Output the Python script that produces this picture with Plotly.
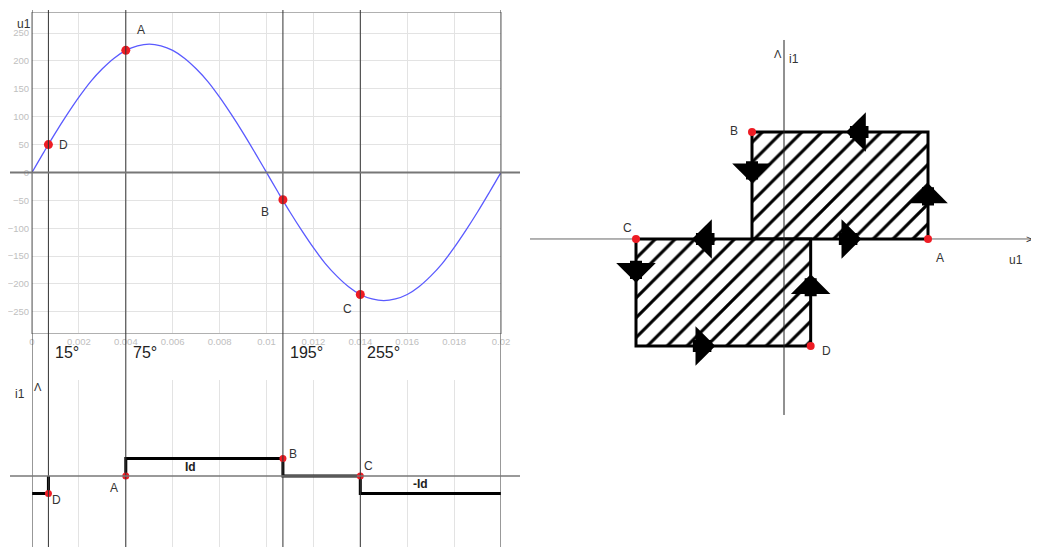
import plotly.graph_objects as go

# sine u1(t), every 0.0005 s
t_sine = [i * 0.0005 for i in range(41)]
u_sine = [0, 36, 71, 104, 135, 163, 186, 205, 219, 227, 230, 227, 219, 205, 186, 163, 135, 104, 71, 36,
          0, -36, -71, -104, -135, -163, -186, -205, -219, -227, -230, -227, -219, -205, -186, -163, -135, -104, -71, -36, 0]

# marked points on the sine
pt_names = ["D", "A", "B", "C"]
pt_t = [0.0007, 0.004, 0.0107, 0.014]
pt_u = [50, 219, -49, -219]
pt_angles = ["15°", "75°", "195°", "255°"]

# current i1(t) (in units of Id)
i_t = [0, 0.0007, 0.0007, None, 0.004, 0.004, 0.0107, 0.0107, 0.014, 0.014, 0.02]
i_val = [-1, -1, 0, None, 0, 1, 1, 0, 0, -1, -1]
i_pt_val = [-1, 0, 1, 0]

# u1-i1 loop (right diagram)
loop_names = ["A", "B", "C", "D"]
loop_u = [216, -48, -222, 40]
loop_i = [0, 1, 0, -1]

# page body has an 8px margin, so the figure is drawn 8px smaller
OFF = 8
W, H = 1039 - OFF, 547 - OFF
px = lambda v: (v - OFF) / W
py = lambda v: 1 - (v - OFF) / H

fig = go.Figure()

# ---- top-left: u1(t)
fig.add_trace(go.Scatter(x=t_sine, y=u_sine, mode="lines", line=dict(color="#5a5aff", width=1.3, shape="spline"),
                         xaxis="x", yaxis="y", hoverinfo="skip"))
fig.add_trace(go.Scatter(x=pt_t, y=pt_u, mode="markers", marker=dict(color="#ee1c24", size=9),
                         xaxis="x", yaxis="y"))

# ---- bottom-left: i1(t)
fig.add_trace(go.Scatter(x=i_t, y=i_val, mode="lines", line=dict(color="black", width=3),
                         xaxis="x", yaxis="y2", connectgaps=False))
fig.add_trace(go.Scatter(x=pt_t, y=i_pt_val, mode="markers", marker=dict(color="#ee1c24", size=7),
                         xaxis="x", yaxis="y2"))

# ---- right: loop with hatching
up = (loop_u[1], loop_u[0])
lo = (loop_u[2], loop_u[3])
pat = dict(shape="/", fgcolor="black", bgcolor="white", size=14, solidity=0.22, fgopacity=1)
fig.add_trace(go.Scatter(x=[up[0], up[1], up[1], up[0], up[0]], y=[0, 0, loop_i[1], loop_i[1], 0],
                         fill="toself", fillpattern=pat, fillcolor="white", mode="lines",
                         line=dict(color="black", width=3), xaxis="x3", yaxis="y3"))
fig.add_trace(go.Scatter(x=[lo[0], lo[1], lo[1], lo[0], lo[0]], y=[0, 0, loop_i[3], loop_i[3], 0],
                         fill="toself", fillpattern=pat, fillcolor="white", mode="lines",
                         line=dict(color="black", width=3), xaxis="x3", yaxis="y3"))
fig.add_trace(go.Scatter(x=loop_u, y=loop_i, mode="markers", marker=dict(color="#ee1c24", size=8),
                         xaxis="x3", yaxis="y3"))

shapes = []
# vertical reference lines through both left panels
for tv in [0] + pt_t + [0.02]:
    shapes.append(dict(type="line", xref="x", yref="paper", x0=tv, x1=tv, y0=0, y1=py(10),
                       line=dict(color="#333", width=1)))
# zero lines extended to the left
shapes.append(dict(type="line", xref="paper", yref="y", x0=px(10), x1=px(520), y0=0, y1=0,
                   line=dict(color="#777", width=2)))
shapes.append(dict(type="line", xref="paper", yref="y2", x0=px(10), x1=px(520), y0=0, y1=0,
                   line=dict(color="#777", width=1.5)))
# right axes
shapes.append(dict(type="line", xref="x3", yref="y3", x0=-381, x1=380, y0=0, y1=0,
                   line=dict(color="#666", width=1), layer="below"))
shapes.append(dict(type="line", xref="x3", yref="y3", x0=0, x1=0, y0=-1.645, y1=1.86,
                   line=dict(color="#222", width=1)))

ann = []
ann.append(dict(text="u1", xref="paper", yref="paper", x=px(15), y=py(15), showarrow=False,
                font=dict(size=12, color="#333")))
for n, tv, uv, dx, dy in zip(pt_names, pt_t, pt_u, [15, 15, -18, -13], [0, 20, -12, -14]):
    ann.append(dict(text=n, x=tv, y=uv, xref="x", yref="y", xshift=dx, yshift=dy, showarrow=False,
                    font=dict(size=12, color="#333")))
for a, tv in zip(pt_angles, pt_t):
    ann.append(dict(text=a, x=tv, y=py(352), xref="x", yref="paper", xanchor="left", xshift=5,
                    showarrow=False, font=dict(size=16, color="#222")))
for n, tv, iv, dx, dy in zip(pt_names, pt_t, i_pt_val, [8, -12, 10, 8], [-7, -12, 5, 10]):
    ann.append(dict(text=n, x=tv, y=iv, xref="x", yref="y2", xshift=dx, yshift=dy, showarrow=False,
                    font=dict(size=12, color="#333")))
ann.append(dict(text="<b>Id</b>", x=0.00674, y=0.51, xref="x", yref="y2", showarrow=False,
                font=dict(size=12, color="#222")))
ann.append(dict(text="<b>-Id</b>", x=0.01655, y=-0.46, xref="x", yref="y2", showarrow=False,
                font=dict(size=12, color="#222")))
ann.append(dict(text="i1", xref="paper", yref="paper", x=px(13), y=py(403), showarrow=False,
                font=dict(size=12, color="#333")))
ann.append(dict(text="Λ", xref="paper", yref="paper", x=px(32), y=py(395), showarrow=False,
                font=dict(size=11, color="#333")))
# right labels
for n, uv, iv, dx, dy in zip(loop_names, loop_u, loop_i, [12, -18, -9, 16], [-19, 1, 11, -5]):
    ann.append(dict(text=n, x=uv, y=iv, xref="x3", yref="y3", xshift=dx, yshift=dy, showarrow=False,
                    font=dict(size=12, color="#333")))
ann.append(dict(text="i1", xref="paper", yref="paper", x=px(801), y=py(50), showarrow=False,
                font=dict(size=12, color="#333")))
ann.append(dict(text="u1", xref="paper", yref="paper", x=px(1025), y=py(260), showarrow=False,
                font=dict(size=12, color="#333")))
ann.append(dict(text="Λ", xref="paper", yref="paper", x=px(784), y=py(46), showarrow=False,
                font=dict(size=11, color="#333")))
ann.append(dict(text=">", xref="paper", yref="paper", x=px(1034), y=py(239), showarrow=False,
                font=dict(size=11, color="#333")))

# direction arrows on the loop: (tip_u, tip_i, tail_u, tail_i)
arrows = [(93, 1, 129, 1), (-48, 0.52, -48, 0.74), (216, 0.52, 216, 0.30), (-138, 0, -102, 0),
          (116, 0, 80, 0), (-222, -0.41, -222, -0.19), (-103, -1, -139, -1), (40, -0.33, 40, -0.55)]
for x1, y1, x0, y0 in arrows:
    ann.append(dict(x=x1, y=y1, ax=x0, ay=y0, xref="x3", yref="y3", axref="x3", ayref="y3", text="",
                    showarrow=True, arrowhead=1, arrowsize=0.55, arrowwidth=12, arrowcolor="black"))

tickfont = dict(size=9.5, color="#c0c0c0")
fig.update_layout(
    width=W, height=H, margin=dict(l=0, r=0, t=0, b=0, pad=0), autosize=False,
    paper_bgcolor="white", plot_bgcolor="white", showlegend=False,
    font=dict(family="Liberation Sans, Arial, sans-serif"),
    xaxis=dict(domain=[px(32), px(501)], range=[0, 0.02], dtick=0.002, anchor="y", automargin=False,
               showgrid=True, gridcolor="#e3e3e3", zeroline=False, showline=True, mirror=True,
               linecolor="#b0b0b0", tickfont=tickfont, ticks=""),
    yaxis=dict(domain=[py(333), py(13)], range=[-288, 286], dtick=50, anchor="x", automargin=False,
               showgrid=True, gridcolor="#e3e3e3", zeroline=False, showline=True, mirror=True,
               linecolor="#b0b0b0", tickfont=tickfont, ticks=""),
    yaxis2=dict(domain=[0, py(380)], range=[-4.06, 5.49], anchor="x", visible=False, automargin=False),
    xaxis3=dict(domain=[px(530), 1], range=[-381, 382.5], anchor="y3", visible=False, automargin=False),
    yaxis3=dict(domain=[0, 1], range=[-2.879, 2.159], anchor="x3", visible=False, automargin=False),
    shapes=shapes, annotations=ann,
)

fig.write_html("out.html")
